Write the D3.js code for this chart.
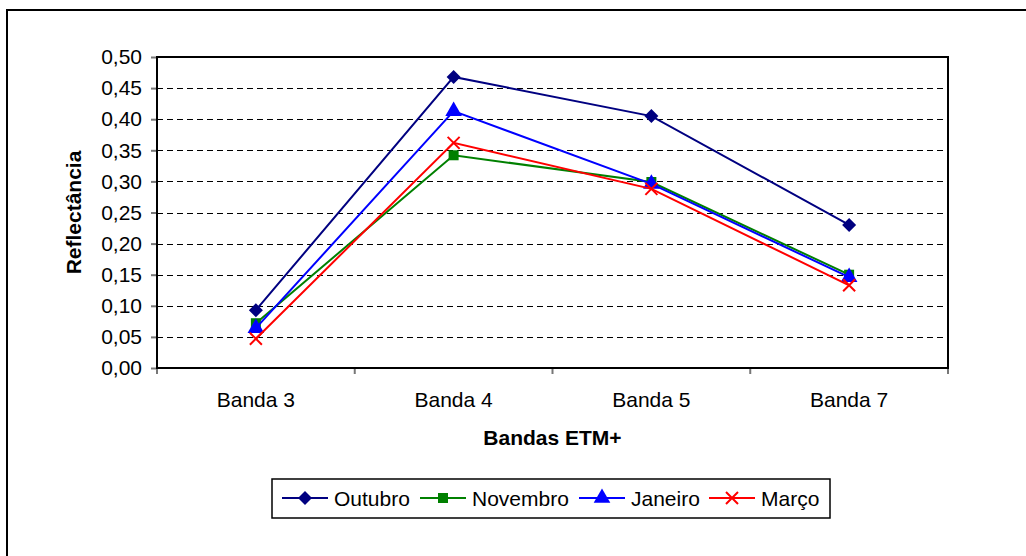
<!DOCTYPE html>
<html>
<head>
<meta charset="utf-8">
<script src="https://cdnjs.cloudflare.com/ajax/libs/d3/7.8.5/d3.min.js"></script>
<style>
  body { margin: 0; background: #fff; }
  svg { display: block; font-family: "Liberation Sans", Arial, sans-serif; }
</style>
</head>
<body>
<script>
var width = 1026,
    height = 556;

// data
var bandas = ["Banda 3", "Banda 4", "Banda 5", "Banda 7"];
var yTicks = [0, 0.05, 0.10, 0.15, 0.20, 0.25, 0.30, 0.35, 0.40, 0.45, 0.50];
var outubro = [0.093, 0.468, 0.405, 0.230];
var novembro = [0.072, 0.342, 0.299, 0.150];
var janeiro = [0.064, 0.413, 0.296, 0.146];
var marco = [0.047, 0.362, 0.288, 0.133];

var series = [
  {name: "Outubro", values: outubro, color: "#000080", symbol: "diamond"},
  {name: "Novembro", values: novembro, color: "#008000", symbol: "square"},
  {name: "Janeiro", values: janeiro, color: "#0000FF", symbol: "triangle"},
  {name: "Março", values: marco, color: "#FF0000", symbol: "cross"}
];

var plot = {left: 157, top: 57, right: 948, bottom: 368};

var svg = d3.select("body").append("svg")
    .attr("width", width)
    .attr("height", height);

// outer chart frame
svg.append("rect")
    .attr("x", 7).attr("y", 10)
    .attr("width", 1030).attr("height", 560)
    .attr("fill", "none")
    .attr("stroke", "#000")
    .attr("stroke-width", 2);

var x = d3.scaleBand()
    .domain(bandas)
    .range([plot.left, plot.right]);

var y = d3.scaleLinear()
    .domain([0, 0.5])
    .range([plot.bottom, plot.top]);

// dashed gridlines
svg.append("g")
  .selectAll("line")
  .data(yTicks.filter(function(d) { return d > 0 && d < 0.5; }))
  .enter().append("line")
    .attr("x1", plot.left).attr("x2", plot.right)
    .attr("y1", function(d) { return Math.round(y(d)) + 0.5; })
    .attr("y2", function(d) { return Math.round(y(d)) + 0.5; })
    .attr("stroke", "#000")
    .attr("stroke-width", 1)
    .attr("stroke-dasharray", "6,4");

var fmt = function(d) { return d3.format(".2f")(d).replace(".", ","); };

// y axis
var yAxis = svg.append("g")
    .attr("transform", "translate(" + plot.left + ",0)")
    .call(d3.axisLeft(y).tickValues(yTicks).tickFormat(fmt).tickSize(6).tickPadding(9));
yAxis.select(".domain").remove();
yAxis.selectAll(".tick line").attr("stroke", "#777").attr("stroke-width", 2);
yAxis.selectAll("text").attr("font-size", 21).attr("fill", "#000")
    .attr("font-family", "Liberation Sans, Arial, sans-serif");

// x axis: ticks at band boundaries
var xAxis = svg.append("g")
    .attr("transform", "translate(0," + plot.bottom + ")")
    .call(d3.axisBottom(x).tickSize(0).tickPadding(24));
xAxis.select(".domain").remove();
xAxis.selectAll("text").attr("font-size", 21).attr("fill", "#000")
    .attr("font-family", "Liberation Sans, Arial, sans-serif");
svg.append("g").selectAll("line")
  .data(bandas.concat(["end"]))
  .enter().append("line")
    .attr("x1", function(d, i) { return plot.left + i * x.step(); })
    .attr("x2", function(d, i) { return plot.left + i * x.step(); })
    .attr("y1", plot.bottom).attr("y2", plot.bottom + 6)
    .attr("stroke", "#777").attr("stroke-width", 2);

// plot border
svg.append("rect")
    .attr("x", plot.left).attr("y", plot.top)
    .attr("width", plot.right - plot.left)
    .attr("height", plot.bottom - plot.top)
    .attr("fill", "none")
    .attr("stroke", "#000")
    .attr("stroke-width", 2);

// axis titles
svg.append("text")
    .attr("transform", "translate(81," + ((plot.top + plot.bottom) / 2) + ") rotate(-90)")
    .attr("text-anchor", "middle")
    .attr("font-size", 21).attr("font-weight", "bold")
    .text("Reflectância");

svg.append("text")
    .attr("x", (plot.left + plot.right) / 2)
    .attr("y", 445)
    .attr("text-anchor", "middle")
    .attr("font-size", 21).attr("font-weight", "bold")
    .text("Bandas ETM+");

function marker(sel, s) {
  if (s.symbol === "cross") {
    sel.append("path")
      .attr("d", "M-6,-6L6,6M-6,6L6,-6")
      .attr("stroke", s.color).attr("stroke-width", 2).attr("fill", "none");
  } else if (s.symbol === "diamond") {
    sel.append("path")
      .attr("d", "M0,-7L7,0L0,7L-7,0Z")
      .attr("fill", s.color);
  } else {
    var type = s.symbol === "square" ? d3.symbolSquare : d3.symbolTriangle;
    var size = s.symbol === "square" ? 100 : 120;
    sel.append("path")
      .attr("d", d3.symbol().type(type).size(size)())
      .attr("fill", s.color);
  }
}

var line = d3.line()
    .x(function(d, i) { return x(bandas[i]) + x.bandwidth() / 2; })
    .y(function(d) { return y(d); });

series.forEach(function(s) {
  var g = svg.append("g");
  g.append("path")
    .attr("d", line(s.values))
    .attr("fill", "none")
    .attr("stroke", s.color)
    .attr("stroke-width", 2);
  s.values.forEach(function(v, i) {
    var m = g.append("g")
      .attr("transform", "translate(" + (x(bandas[i]) + x.bandwidth() / 2) + "," + y(v) + ")");
    marker(m, s);
  });
});

// legend
var legend = svg.append("g");
legend.append("rect")
    .attr("x", 272).attr("y", 479)
    .attr("width", 558).attr("height", 39)
    .attr("fill", "#fff")
    .attr("stroke", "#000")
    .attr("stroke-width", 1.5);

var legendX = [282, 420, 579, 709];
series.forEach(function(s, i) {
  var g = legend.append("g").attr("transform", "translate(" + legendX[i] + ",498)");
  g.append("line")
    .attr("x1", 0).attr("x2", 46)
    .attr("stroke", s.color).attr("stroke-width", 2);
  var m = g.append("g").attr("transform", "translate(23,0)");
  marker(m, s);
  g.append("text")
    .attr("x", 52).attr("y", 7.5)
    .attr("font-size", 21)
    .text(s.name);
});
</script>
</body>
</html>
